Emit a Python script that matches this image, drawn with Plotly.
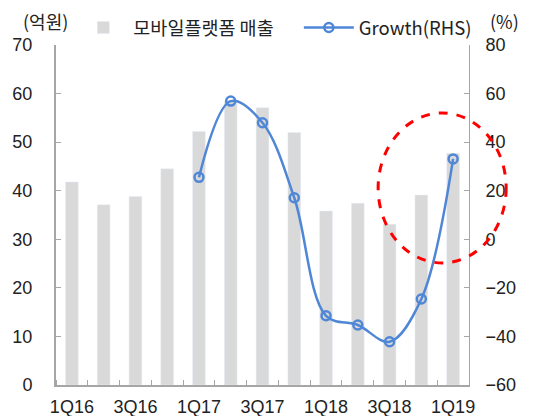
import plotly.graph_objects as go

quarters = ["1Q16", "2Q16", "3Q16", "4Q16", "1Q17", "2Q17", "3Q17", "4Q17",
            "1Q18", "2Q18", "3Q18", "4Q18", "1Q19"]
sales = [41.8, 37.1, 38.8, 44.5, 52.2, 58.5, 57.1, 52.0, 35.8, 37.4, 33.1, 39.1, 47.7]
growth = [None, None, None, None, 25.5, 56.9, 48.0, 17.1, -31.5, -35.3, -42.2, -24.6, 33.1]
tick_labels = ["1Q16", "3Q16", "1Q17", "3Q17", "1Q18", "3Q18", "1Q19"]

xs = list(range(len(quarters)))
tick_pos = [quarters.index(t) for t in tick_labels]

FONT = "Liberation Sans, Arial, Noto Sans CJK KR"
KFONT = "Noto Sans CJK KR"
BLUE = "#4F87D6"

fig = go.Figure()
fig.add_trace(go.Bar(x=xs, y=sales, name="모바일플랫폼 매출", marker_color="#D9D9D9",
                     width=0.4, yaxis="y", legend="legend"))
fig.add_trace(go.Scatter(x=xs, y=growth, name="Growth(RHS)", yaxis="y2", legend="legend2",
                         mode="lines+markers", line=dict(color=BLUE, width=2.5, shape="spline", smoothing=1.0),
                         marker=dict(symbol="circle-open", size=9, color=BLUE, line=dict(width=2.5)),
                         connectgaps=False))

leg_common = dict(orientation="h", y=1.05, xanchor="left", yanchor="middle",
                  font=dict(family=KFONT, size=18.5), bgcolor="rgba(0,0,0,0)", itemwidth=50)

fig.update_layout(
    width=525, height=408,
    margin=dict(l=48, r=64, t=37, b=31, autoexpand=False),
    plot_bgcolor="white", paper_bgcolor="white",
    font=dict(family=FONT, size=18, color="#222"),
    showlegend=True,
    legend=dict(x=0.042, **leg_common),
    legend2=dict(x=0.588, **leg_common),
    bargap=0.6,
    xaxis=dict(range=[-0.5, 12.5], tickvals=tick_pos, ticktext=tick_labels, ticks="",
               showline=True, linecolor="#A6A6A6", linewidth=2, showgrid=False, zeroline=False,
               tickfont=dict(size=18), ticklabelstandoff=4,
               minor=dict(tickvals=[i - 0.5 for i in range(14)], ticks="inside", ticklen=5,
                          tickcolor="#A6A6A6", tickwidth=1, showgrid=False)),
    yaxis=dict(range=[0, 70], dtick=10, ticks="inside", ticklen=5, tickcolor="#A6A6A6",
               showline=True, linecolor="#A6A6A6", linewidth=2, showgrid=False, zeroline=False,
               tickfont=dict(size=18), ticklabelstandoff=18),
    yaxis2=dict(range=[-60, 80], dtick=20, overlaying="y", side="right", ticks="inside", ticklen=5,
                tickcolor="#A6A6A6", showline=True, linecolor="#A6A6A6", linewidth=1,
                showgrid=False, zeroline=False, tickfont=dict(size=18), ticklabelstandoff=12),
)

fig.add_annotation(text="(억원)", xref="paper", yref="paper", x=-0.026, y=1.07,
                   xanchor="center", yanchor="middle", showarrow=False,
                   font=dict(family=KFONT, size=18))
fig.add_annotation(text="(%)", xref="paper", yref="paper", x=1.085, y=1.07,
                   xanchor="center", yanchor="middle", showarrow=False,
                   font=dict(family=KFONT, size=18))

fig.add_shape(type="circle", xref="paper", yref="paper", x0=0.78, x1=1.09, y0=0.359, y1=0.8,
              line=dict(color="#FF0000", width=3, dash="dash"), layer="above")

fig.write_html("out.html")
